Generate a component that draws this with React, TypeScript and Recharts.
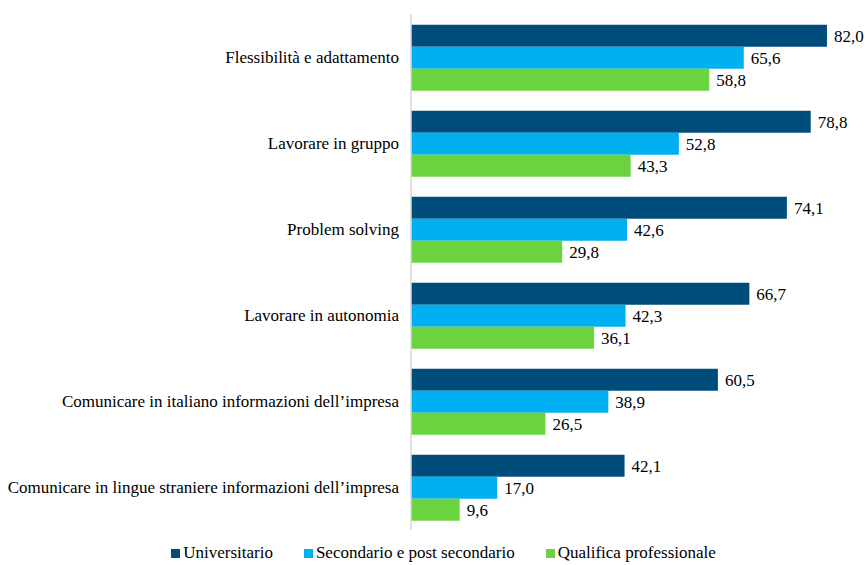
import React from 'react'
import { BarChart, Bar, XAxis, YAxis, Legend, LabelList } from 'recharts'

const categorie = [
  'Flessibilità e adattamento',
  'Lavorare in gruppo',
  'Problem solving',
  'Lavorare in autonomia',
  "Comunicare in italiano informazioni dell'impresa",
  "Comunicare in lingue straniere informazioni dell'impresa",
]
const universitario = [82.0, 78.8, 74.1, 66.7, 60.5, 42.1]
const secondario = [65.6, 52.8, 42.6, 42.3, 38.9, 17.0]
const qualifica = [58.8, 43.3, 29.8, 36.1, 26.5, 9.6]

const SERIE = [
  { key: 'Universitario', color: '#004C7B' },
  { key: 'Secondario e post secondario', color: '#00B0F0' },
  { key: 'Qualifica professionale', color: '#6BD33F' },
]

const FONT = 'Liberation Serif, Times New Roman, serif'

const data = categorie.map((c, i) => ({
  nome: c.replace("dell'", 'dell\u2019'),
  Universitario: universitario[i],
  'Secondario e post secondario': secondario[i],
  'Qualifica professionale': qualifica[i],
}))

const fmt = (v: any) => Number(v).toFixed(1).replace('.', ',')

function LegendaCustom() {
  return (
    <div
      style={{
        height: 33,
        paddingTop: 13,
        boxSizing: 'border-box',
        display: 'flex',
        justifyContent: 'center',
        gap: 31,
        fontFamily: FONT,
        fontSize: 17,
        lineHeight: '20px',
        color: '#000',
        marginLeft: 22,
      }}
    >
      {SERIE.map(s => (
        <span key={s.key} style={{ display: 'flex', alignItems: 'center' }}>
          <span style={{ width: 9, height: 9, background: s.color, marginRight: 3, display: 'inline-block' }} />
          {s.key}
        </span>
      ))}
    </div>
  )
}

export default function App() {
  return (
    <div style={{ position: 'absolute', left: 0, top: 0, background: '#fff' }}>
      <BarChart
        width={865}
        height={565}
        data={data}
        layout="vertical"
        margin={{ top: 14, right: 0, bottom: 2, left: 0 }}
        barCategoryGap="12.5%"
        barGap={0}
      >
        <XAxis type="number" domain={[0, 89.5]} hide />
        <YAxis
          type="category"
          dataKey="nome"
          width={411}
          axisLine={{ stroke: '#d9d9d9', strokeWidth: 1.5 }}
          tickLine={false}
          tickSize={0}
          tickMargin={12}
          interval={0}
          tick={{ fill: '#000', fontSize: 17, fontFamily: FONT }}
        />
        <Legend verticalAlign="bottom" content={() => <LegendaCustom />} />
        {SERIE.map(s => (
          <Bar key={s.key} dataKey={s.key} fill={s.color} isAnimationActive={false}>
            <LabelList
              dataKey={s.key}
              position="right"
              offset={7}
              formatter={fmt}
              style={{ fill: '#000', fontSize: 17, fontFamily: FONT }}
            />
          </Bar>
        ))}
      </BarChart>
    </div>
  )
}
